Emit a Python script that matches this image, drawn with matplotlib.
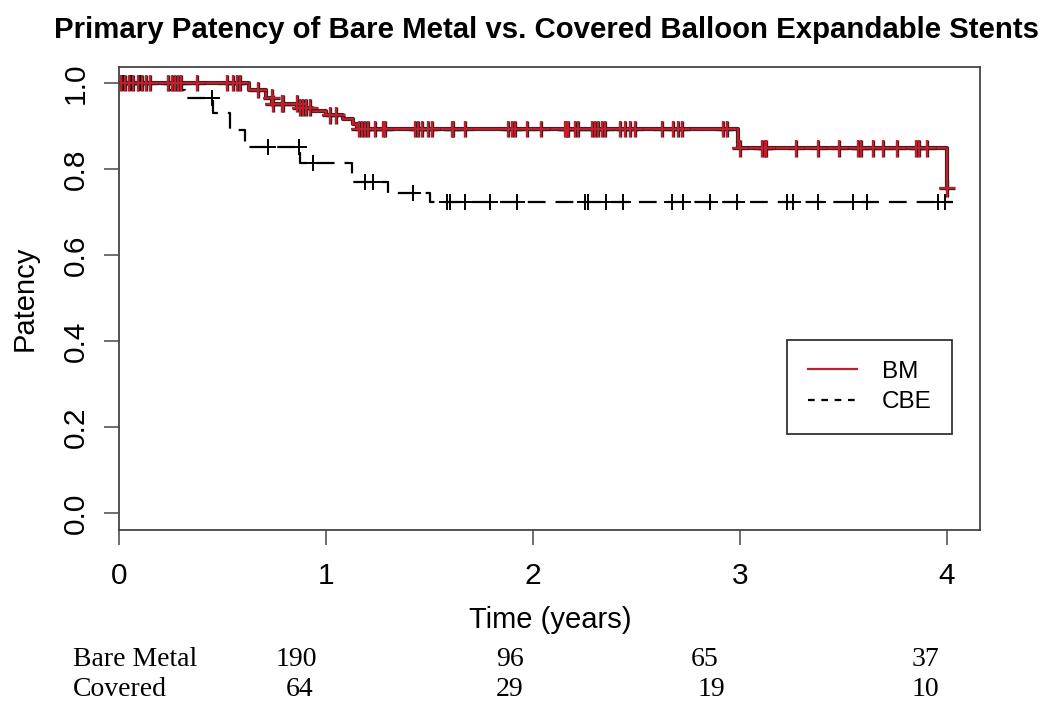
import numpy as np
import matplotlib
matplotlib.use('Agg')
import matplotlib.pyplot as plt
import matplotlib.patheffects as pe
from matplotlib.lines import Line2D

plt.rcParams['font.family'] = ['Liberation Sans', 'DejaVu Sans']

# Kaplan-Meier steps, bare metal (BM)
bm_time = [0.0, 0.63, 0.71, 0.74, 0.86, 0.93, 1.00, 1.08, 1.13, 1.15, 2.99, 4.00]
bm_surv = [1.0, 0.984, 0.966, 0.952, 0.943, 0.934, 0.925, 0.916, 0.905, 0.893, 0.848, 0.755]
bm_end = 4.00
bm_cens = [0.01, 0.03, 0.05, 0.07, 0.09, 0.11, 0.13, 0.15, 0.238, 0.254, 0.27, 0.286,
           0.30, 0.375, 0.52, 0.552, 0.569, 0.585, 0.673, 0.738, 0.745, 0.786, 0.794,
           0.858, 0.875, 0.89, 0.905, 0.923, 1.02, 1.05, 1.16, 1.175, 1.19, 1.205,
           1.237, 1.277, 1.285, 1.43, 1.446, 1.462, 1.494, 1.51, 1.607, 1.615, 1.67,
           1.88, 1.897, 1.913, 1.97, 2.04, 2.155, 2.163, 2.17, 2.203, 2.219, 2.283,
           2.30, 2.316, 2.332, 2.348, 2.42, 2.444, 2.469, 2.493, 2.622, 2.678, 2.702,
           2.718, 2.919, 2.939, 3.0, 3.105, 3.12, 3.128, 3.27, 3.378, 3.48, 3.571,
           3.583, 3.644, 3.689, 3.76, 3.85, 3.866, 3.905, 4.0]

# Kaplan-Meier steps, covered balloon expandable (CBE)
cbe_time = [0.0, 0.23, 0.32, 0.455, 0.535, 0.61, 0.874, 1.124, 1.30, 1.50]
cbe_surv = [1.0, 0.984, 0.966, 0.93, 0.89, 0.852, 0.813, 0.770, 0.745, 0.723]
cbe_end = 4.03
cbe_cens = [0.02, 0.06, 0.1, 0.15, 0.448, 0.72, 0.871, 0.939, 1.188, 1.229, 1.42,
            1.583, 1.599, 1.671, 1.792, 1.921, 2.251, 2.267, 2.353, 2.433, 2.67,
            2.726, 2.855, 2.984, 3.225, 3.258, 3.378, 3.547, 3.612, 3.958, 3.99]

# numbers at risk
risk_groups = ['Bare Metal', 'Covered']
risk_bm = [190, 96, 65, 37]
risk_cbe = [64, 29, 19, 10]
risk_x = [296, 510, 705, 925]
risk_x2 = [300, 510, 711, 925]

x_ticks = [0, 1, 2, 3, 4]
y_ticks = [0.0, 0.2, 0.4, 0.6, 0.8, 1.0]

RED = '#c0202e'
DARK = '#4a1a1e'
W, H = 1050, 712


def step_xy(t, s, end):
    return list(t) + [end], list(s) + [s[-1]]


def cens_y(t, s, c):
    idx = np.searchsorted(np.array(t), np.array(c), side='right') - 1
    return np.array(s)[idx]


fig = plt.figure(figsize=(10.5, 7.12), dpi=100)
ax = fig.add_axes([119 / W, 1 - 530 / H, (980 - 119) / W, (530 - 67) / H])

# CBE
x, y = step_xy(cbe_time, cbe_surv, cbe_end)
ax.step(x, y, where='post', color='black', lw=1.6, linestyle=(0, (8, 4.5)))
ax.plot(cbe_cens, cens_y(cbe_time, cbe_surv, cbe_cens), '+', color='black',
        ms=12, mew=1.4)

# BM
outline = [pe.Stroke(linewidth=3.0, foreground=DARK), pe.Normal()]
x, y = step_xy(bm_time, bm_surv, bm_end)
ax.step(x, y, where='post', color=RED, lw=1.6, path_effects=outline)
ax.plot(bm_cens, cens_y(bm_time, bm_surv, bm_cens), '+', color=RED,
        ms=12, mew=1.4, path_effects=[pe.Stroke(linewidth=2.4, foreground=DARK), pe.Normal()])

ax.set_xlim(0, (980 - 119) / 207)
ax.set_ylim(-17 / 430, 1 + 16 / 430)
ax.set_xticks(x_ticks)
ax.set_yticks(y_ticks)
ax.set_xticklabels([str(v) for v in x_ticks], fontsize=21.5)
ax.set_yticklabels([f'{v:.1f}' for v in y_ticks], fontsize=21.5, rotation=90, va='center')
ax.tick_params(direction='out', length=11, width=1.2, color='#555555')
ax.tick_params(axis='x', pad=12)
ax.tick_params(axis='y', pad=10)
for sp in ax.spines.values():
    sp.set_color('#444444')
    sp.set_linewidth(1.3)

handles = [Line2D([], [], color=RED, lw=1.6),
           Line2D([], [], color='black', lw=1.6, linestyle=(0, (3, 3)))]
leg = ax.legend(handles, ['BM', 'CBE'], loc='upper left',
                bbox_to_anchor=((787 - 119) / 861, (530 - 340) / 463),
                borderaxespad=0, fontsize=17.5, handlelength=2.05, handletextpad=1.0,
                borderpad=0.85, labelspacing=0.35, fancybox=False, framealpha=1)
leg.get_frame().set_edgecolor('#333333')
leg.get_frame().set_linewidth(1.3)

fig.text(546 / W, 1 - 30 / H, 'Primary Patency of Bare Metal vs. Covered Balloon Expandable Stents',
         ha='center', va='center', fontsize=21.2, fontweight='bold')
fig.text(550 / W, 1 - 620 / H, 'Time (years)', ha='center', va='center', fontsize=21)
fig.text(25 / W, 1 - 298 / H, 'Patency', ha='center', va='center', fontsize=21, rotation=90)

# number-at-risk table
serif = ['Liberation Serif', 'DejaVu Serif']
fig.text(73 / W, 1 - 659 / H, risk_groups[0], ha='left', va='center', fontsize=20, family=serif)
fig.text(73 / W, 1 - 690 / H, risk_groups[1], ha='left', va='center', fontsize=20, family=serif)
for xp, v in zip(risk_x, risk_bm):
    fig.text(xp / W, 1 - 659 / H, str(v), ha='center', va='center', fontsize=20, family=serif)
for xp, v in zip(risk_x2, risk_cbe):
    fig.text(xp / W, 1 - 690 / H, str(v), ha='center', va='center', fontsize=20, family=serif)

fig.savefig('out.png', dpi=100)
